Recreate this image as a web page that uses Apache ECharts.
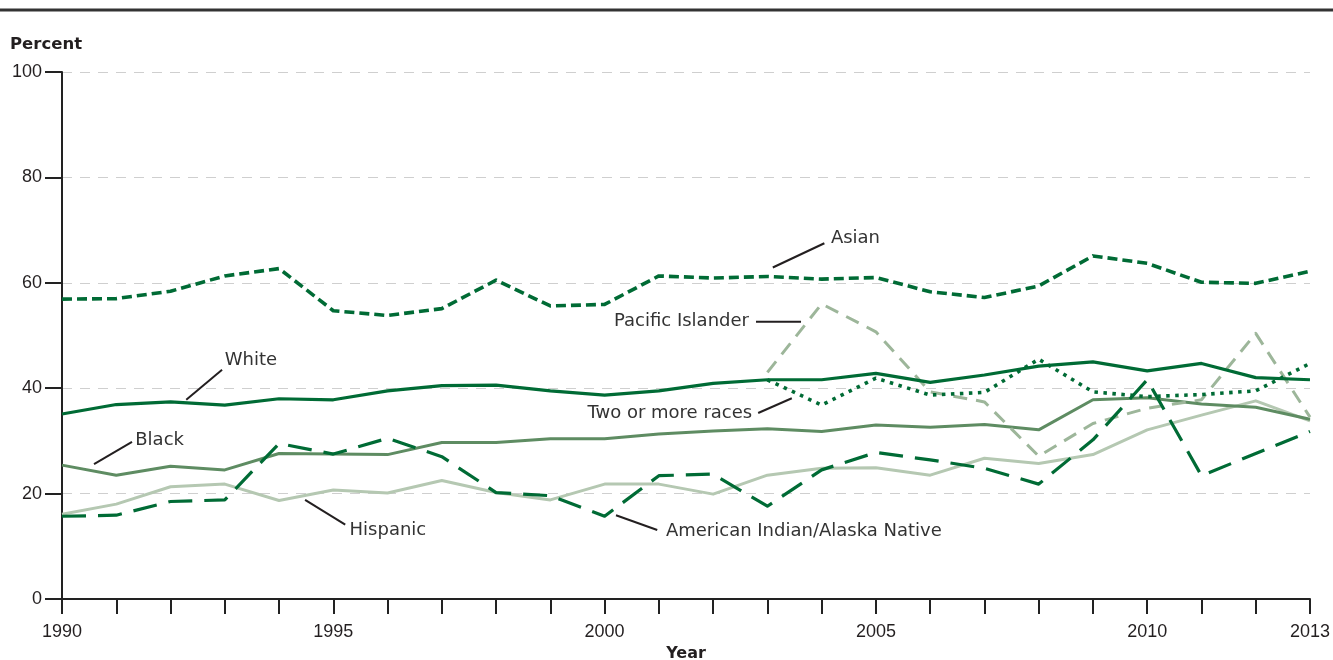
<!DOCTYPE html>
<html><head><meta charset="utf-8">
<script src="https://cdn.jsdelivr.net/npm/echarts@6/dist/echarts.min.js"></script>
<style>html,body{margin:0;padding:0;background:#fff;overflow:hidden}#c{width:1333px;height:660px}</style>
</head><body><div id="c"></div>
<script>
const years = [1990,1991,1992,1993,1994,1995,1996,1997,1998,1999,2000,2001,2002,2003,2004,2005,2006,2007,2008,2009,2010,2011,2012,2013];
const white    = [35.1,36.9,37.4,36.8,38.0,37.8,39.5,40.5,40.6,39.5,38.7,39.5,40.9,41.6,41.6,42.8,41.1,42.5,44.2,45.0,43.3,44.7,42.0,41.6];
const black    = [25.4,23.5,25.2,24.5,27.6,27.5,27.4,29.7,29.7,30.4,30.4,31.3,31.9,32.3,31.8,33.0,32.6,33.1,32.1,37.8,38.2,37.0,36.4,34.1];
const hispanic = [16.1,18.0,21.3,21.8,18.7,20.7,20.1,22.5,20.2,18.8,21.8,21.8,19.9,23.5,24.8,24.9,23.5,26.7,25.7,27.4,32.1,34.9,37.6,33.8];
const asian    = [56.9,57.0,58.4,61.3,62.7,54.7,53.8,55.1,60.5,55.6,55.9,61.3,60.9,61.2,60.7,61.0,58.3,57.2,59.4,65.1,63.7,60.1,59.9,62.2];
const aian     = [15.7,15.9,18.5,18.8,29.5,27.5,30.5,27.0,20.2,19.6,15.7,23.4,23.7,17.6,24.5,27.8,26.4,24.8,21.8,30.2,41.6,23.4,27.6,31.8];
const pacific  = [null,null,null,null,null,null,null,null,null,null,null,null,null,43.0,56.0,50.7,39.3,37.4,27.1,33.3,36.2,37.8,50.4,34.5];
const twoMore  = [null,null,null,null,null,null,null,null,null,null,null,null,null,41.6,36.8,41.9,38.7,39.2,45.5,39.3,38.4,38.8,39.5,44.7];
const yTicks = [0,20,40,60,80,100];
const xLabelYears = [1990,1995,2000,2005,2010,2013];

const TICKFONT = '"Liberation Sans", Arial, sans-serif';
const FONT = '"DejaVu Sans", sans-serif';
const TXT = '#231f20';
const DARK = '#006b35';
const MID = '#5e8c62';
const LIGHT = '#b5c8b2';
const PAC = '#9db69a';

function pairs(arr){ return years.map((y,i)=>[y,arr[i]]); }

const series = [
  {name:'Hispanic', data:pairs(hispanic), color:LIGHT, type:'solid', w:3},
  {name:'Black', data:pairs(black), color:MID, type:'solid', w:3},
  {name:'Pacific Islander', data:pairs(pacific), color:PAC, type:[14,9], w:3},
  {name:'American Indian/Alaska Native', data:pairs(aian), color:DARK, type:[24,12], w:3.2},
  {name:'Two or more races', data:pairs(twoMore), color:DARK, type:[3.5,5.5], w:3.6},
  {name:'White', data:pairs(white), color:DARK, type:'solid', w:3.2},
  {name:'Asian', data:pairs(asian), color:DARK, type:[10,5], w:3.6}
].map(s=>({
  name:s.name, type:'line', data:s.data, symbol:'none', connectNulls:false,
  lineStyle:{color:s.color, width:s.w, type:s.type, join:'round', cap:'butt'},
  itemStyle:{color:s.color}, animation:false, z:3
}));

const chart = echarts.init(document.getElementById('c'), null, {renderer:'canvas', width:1333, height:660});
chart.setOption({
  animation:false,
  grid:{left:62, top:72, width:1248, height:527, containLabel:false, outerBoundsMode:'none'},
  xAxis:{
    type:'value', min:1990, max:2013, interval:1,
    axisLine:{show:true, onZero:false, lineStyle:{color:'#222', width:2}},
    axisTick:{show:true, inside:false, length:15, lineStyle:{color:'#222', width:2}},
    axisLabel:{margin:24, fontFamily:TICKFONT, fontSize:18, color:TXT,
      formatter:v=> xLabelYears.indexOf(v)>=0 ? String(v) : '', showMaxLabel:true, showMinLabel:true},
    splitLine:{show:false},
    name:'Year', nameLocation:'middle', nameGap:44,
    nameTextStyle:{fontFamily:FONT, fontSize:16, fontWeight:'bold', color:TXT}
  },
  yAxis:{
    type:'value', min:0, max:100, interval:20,
    axisLine:{show:true, lineStyle:{color:'#222', width:2}},
    axisTick:{show:true, inside:false, length:17, lineStyle:{color:'#222', width:2}},
    axisLabel:{margin:20, fontFamily:TICKFONT, fontSize:18, color:TXT,
      formatter:v=> yTicks.indexOf(v)>=0 ? String(v) : ''},
    splitLine:{show:true, lineStyle:{color:'#cfcfcf', width:1, type:[10,8]}},
    name:'Percent', nameLocation:'end', nameGap:19,
    nameTextStyle:{fontFamily:FONT, fontSize:16.5, fontWeight:'bold', color:TXT, align:'left', padding:[0,0,0,-52]}
  },
  series:series
});

// annotations in data coordinates: [text, textYear, textValue, lineFromYear, lineFromValue, lineToYear, lineToValue, align]
const notes = [
  ['Asian', 2004.17, 68.5, 2003.1, 62.9, 2004.05, 67.5, 'left'],
  ['Pacific Islander', 2002.66, 52.6, 2002.79, 52.6, 2003.62, 52.6, 'right'],
  ['White', 1993.0, 45.2, 1992.29, 37.8, 1992.95, 43.5, 'left'],
  ['Two or more races', 2002.72, 35.3, 2002.83, 35.3, 2003.45, 38.1, 'right'],
  ['Black', 1991.35, 30.2, 1990.59, 25.6, 1991.29, 29.8, 'left'],
  ['Hispanic', 1995.3, 13.0, 1994.48, 18.8, 1995.22, 14.1, 'left'],
  ['American Indian/Alaska Native', 2001.13, 12.8, 2000.21, 15.9, 2000.97, 13.1, 'left']
];
const g = [];
g.push({type:'line', shape:{x1:0,y1:10,x2:1333,y2:10}, style:{stroke:'#333', lineWidth:3}});
notes.forEach(n=>{
  const tp = chart.convertToPixel({gridIndex:0},[n[1],n[2]]);
  const a = chart.convertToPixel({gridIndex:0},[n[3],n[4]]);
  const b = chart.convertToPixel({gridIndex:0},[n[5],n[6]]);
  g.push({type:'line', shape:{x1:a[0],y1:a[1],x2:b[0],y2:b[1]}, style:{stroke:'#231f20', lineWidth:2}, z:10});
  g.push({type:'text', x:tp[0], y:tp[1], style:{text:n[0], fill:'#333', font:'18px '+FONT, textAlign:n[7], textVerticalAlign:'middle'}, z:10});
});
chart.setOption({graphic:g});
</script></body></html>
